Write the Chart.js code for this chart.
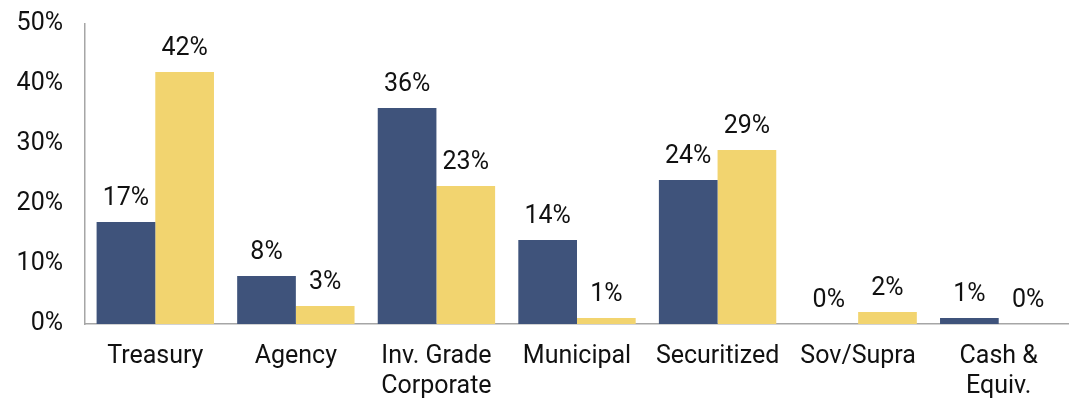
<!DOCTYPE html>
<html>
<head>
<meta charset="utf-8">
<script src="https://cdn.jsdelivr.net/npm/chart.js@4/dist/chart.umd.min.js"></script>
<style>
  html, body { margin: 0; padding: 0; background: #fff; }
  #wrap { width: 1069px; height: 400px; }
</style>
</head>
<body>
<div id="wrap"><canvas id="myChart"></canvas></div>
<script>
var categories = ["Treasury", "Agency", ["Inv. Grade", "Corporate"], "Municipal", "Securitized", "Sov/Supra", ["Cash &", "Equiv."]];
var series1 = [17, 8, 36, 14, 24, 0, 1];
var series2 = [42, 3, 23, 1, 29, 2, 0];
var yTicks = [0, 10, 20, 30, 40, 50];

var fontFamily = "Roboto, 'DejaVu Sans', sans-serif";

// draws the % labels above each bar
var barLabels = {
  id: "barLabels",
  afterDatasetsDraw: function(chart) {
    var ctx = chart.ctx;
    ctx.save();
    ctx.font = "25px " + fontFamily;
    ctx.fillStyle = "#111";
    ctx.textAlign = "center";
    ctx.textBaseline = "alphabetic";
    chart.data.datasets.forEach(function(ds, i) {
      chart.getDatasetMeta(i).data.forEach(function(bar, j) {
        ctx.fillText(ds.data[j] + "%", bar.x, bar.y - 17);
      });
    });
    ctx.restore();
  }
};

var ctx = document.getElementById("myChart");
var chart = new Chart(ctx, {
  type: "bar",
  data: {
    labels: categories,
    datasets: [
      {
        label: "Series 1",
        backgroundColor: "#3F537B",
        data: series1
      },
      {
        label: "Series 2",
        backgroundColor: "#F2D46F",
        data: series2
      }
    ]
  },
  options: {
    responsive: true,
    maintainAspectRatio: false,
    animation: false,
    layout: { padding: { top: 24, right: 0, left: 0, bottom: 0 } },
    plugins: {
      legend: { display: false },
      tooltip: { enabled: false }
    },
    datasets: {
      bar: { barPercentage: 1, categoryPercentage: 0.835 }
    },
    scales: {
      x: {
        afterFit: function(scale) {
          scale.height = 76;
          scale.paddingLeft = 0;
          scale.paddingRight = 0;
        },
        grid: { display: false, drawTicks: false },
        border: { color: "#A6A6A6", width: 1.5 },
        ticks: {
          color: "#111",
          font: { family: fontFamily, size: 25, lineHeight: 1.2 },
          padding: 18,
          maxRotation: 0,
          autoSkip: false
        }
      },
      y: {
        min: 0,
        max: 50,
        afterBuildTicks: function(scale) {
          scale.ticks = yTicks.map(function(v) { return { value: v }; });
        },
        afterFit: function(scale) {
          scale.width = 85;
          scale.paddingTop = 0;
          scale.paddingBottom = 0;
        },
        grid: { display: false, drawTicks: false },
        border: { color: "#A6A6A6", width: 1.5 },
        ticks: {
          color: "#111",
          font: { family: fontFamily, size: 25 },
          padding: 22,
          callback: function(v) { return v + "%"; }
        }
      }
    }
  },
  plugins: [barLabels]
});
</script>
</body>
</html>
